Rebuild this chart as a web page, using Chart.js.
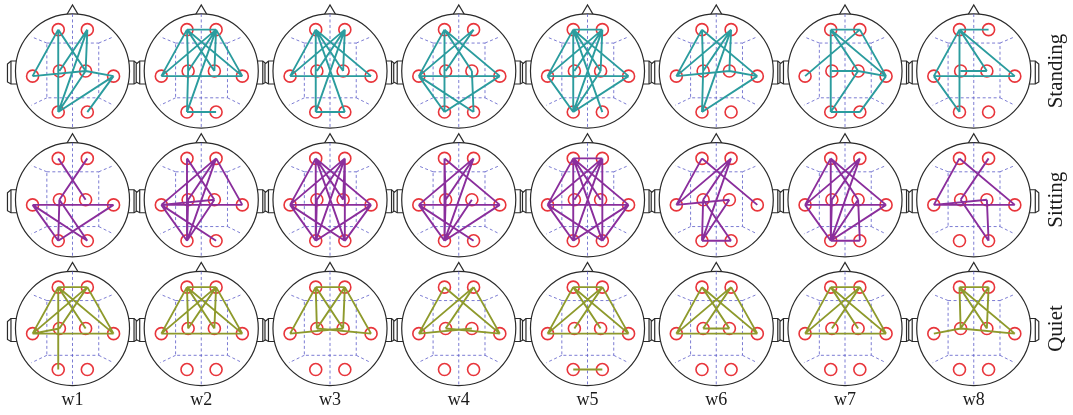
<!DOCTYPE html>
<html>
<head>
<meta charset="utf-8">
<script src="https://cdn.jsdelivr.net/npm/chart.js@4.4.1/dist/chart.umd.min.js"></script>
<style>
  html, body { margin: 0; padding: 0; background: #ffffff; }
  #wrap { width: 1073px; height: 415px; }
</style>
</head>
<body>
<div id="wrap"><canvas id="c" width="1073" height="415"></canvas></div>
<script>
// Time windows (columns) and postures (rows)
const windows = ['w1', 'w2', 'w3', 'w4', 'w5', 'w6', 'w7', 'w8'];
const postures = ['Standing', 'Sitting', 'Quiet'];

// Electrode montage, in head radii from the head centre (y grows toward the back)
const electrodeX = [-0.25, 0.26, -0.70, -0.23, 0.23, 0.72, -0.25, 0.26];
const electrodeY = [-0.725, -0.725, 0.09, 0.0, 0.0, 0.09, 0.72, 0.72];

// Functional connections (electrode index pairs) per time window
const standingLinks = [
  [[0,6],[0,2],[0,4],[1,3],[1,6],[1,4],[2,4],[4,5],[5,6],[4,6],[5,7]],
  [[0,1],[0,2],[0,3],[0,4],[0,5],[1,2],[1,3],[1,4],[1,5],[1,6],[2,5],[3,6],[6,7]],
  [[0,6],[0,2],[0,4],[0,5],[0,7],[1,2],[1,3],[1,4],[1,6],[2,5],[6,7]],
  [[0,6],[0,2],[0,4],[0,5],[1,2],[1,3],[2,5],[2,6],[2,7],[5,6],[4,7]],
  [[0,1],[0,6],[0,2],[0,4],[0,5],[0,7],[1,2],[1,3],[1,6],[1,4],[2,5],[2,6],[5,6],[4,6]],
  [[0,3],[0,2],[0,5],[1,2],[1,3],[1,6],[1,4],[2,4],[4,5],[5,6],[3,6]],
  [[0,1],[1,2],[0,6],[0,4],[0,5],[1,5],[3,4],[4,5],[5,7],[4,6],[6,7]],
  [[0,1],[0,6],[0,2],[0,4],[0,5],[2,5],[2,6],[3,4]]
];
const sittingLinks = [
  [[0,4],[1,3],[2,5],[2,6],[2,7],[5,6],[3,6],[3,7]],
  [[0,6],[0,4],[1,2],[1,3],[1,6],[1,5],[2,4],[2,5],[2,6],[2,7],[3,6],[4,6]],
  [[0,2],[0,6],[0,4],[0,5],[1,2],[1,3],[1,6],[1,7],[2,5],[2,6],[2,7],[3,6],[5,6],[5,7],[1,4],[0,7]],
  [[0,3],[0,6],[0,5],[1,2],[1,3],[1,6],[2,5],[2,6],[2,7],[3,6],[4,6],[5,6]],
  [[0,1],[0,2],[0,6],[0,4],[0,5],[0,7],[1,2],[1,3],[1,6],[1,7],[2,5],[2,6],[2,7],[5,6],[5,7]],
  [[0,2],[0,5],[1,2],[1,3],[1,6],[2,4],[3,6],[3,7],[4,6],[6,7]],
  [[0,2],[0,6],[0,4],[0,5],[1,2],[1,3],[1,6],[2,5],[2,6],[3,6],[4,6],[4,7],[5,6],[6,7]],
  [[0,2],[0,5],[1,3],[2,4],[2,5],[4,7],[3,7]]
];
const quietLinks = [
  [[0,1],[0,2],[0,6],[0,4],[0,5],[1,2],[1,3],[1,5],[2,5],[2,3]],
  [[0,1],[0,2],[0,4],[0,5],[1,2],[1,3],[1,5],[2,5],[0,3],[1,4]],
  [[0,1],[0,2],[0,4],[1,3],[1,5],[2,4],[3,5],[0,3],[1,4]],
  [[0,2],[0,5],[1,2],[1,5],[2,4],[3,5],[1,3]],
  [[0,1],[0,2],[0,4],[0,5],[1,2],[1,3],[1,5],[2,5],[6,7]],
  [[0,2],[0,4],[0,5],[1,2],[1,3],[1,5],[2,5],[3,4]],
  [[0,1],[0,2],[0,4],[0,5],[1,2],[1,3],[1,5],[2,5]],
  [[0,1],[0,3],[0,5],[1,3],[1,4],[2,3],[3,5],[0,4]]
];
const postureLinks = [standingLinks, sittingLinks, quietLinks];
const postureColors = ['#2b9c9e', '#8a2e9c', '#8e9a2c'];

// Grid geometry in cell units: one cell per head
const headRadius = 0.443;
const cellPx = 128.75;
const xMin = -72.5 / cellPx, xMax = xMin + 1073 / cellPx;
const yMin = -71 / cellPx,   yMax = yMin + 415 / cellPx;

const datasets = [];
postures.forEach((p, r) => {
  windows.forEach((w, c) => {
    const pts = [];
    postureLinks[r][c].forEach(([a, b]) => {
      pts.push({ x: c + electrodeX[a] * headRadius, y: r + electrodeY[a] * headRadius });
      pts.push({ x: c + electrodeX[b] * headRadius, y: r + electrodeY[b] * headRadius });
      pts.push({ x: NaN, y: NaN });
    });
    datasets.push({
      label: p + ' ' + w,
      data: pts,
      showLine: true,
      spanGaps: false,
      borderColor: postureColors[r],
      borderWidth: 1.9,
      pointRadius: 0,
      order: 1
    });
  });
});
const electrodePts = [];
postures.forEach((p, r) => windows.forEach((w, c) => {
  electrodeX.forEach((ex, i) => electrodePts.push({ x: c + ex * headRadius, y: r + electrodeY[i] * headRadius }));
}));
datasets.push({
  label: 'electrodes',
  data: electrodePts,
  pointRadius: 6,
  pointBorderWidth: 1.6,
  pointBorderColor: '#e8353b',
  pointBackgroundColor: 'rgba(0,0,0,0)',
  showLine: false,
  order: 2
});

// Head outlines, nose, ears and the dashed reference grid
const headPlugin = {
  id: 'heads',
  beforeDatasetsDraw(chart) {
    const { ctx, scales: { x, y } } = chart;
    const unit = x.getPixelForValue(1) - x.getPixelForValue(0);
    const R = headRadius * unit;
    postures.forEach((p, r) => windows.forEach((w, c) => {
      const cx = x.getPixelForValue(c), cy = y.getPixelForValue(r);
      ctx.save();
      ctx.strokeStyle = '#2a2a2a';
      ctx.lineWidth = 1.2;
      ctx.fillStyle = '#ffffff';
      // nose
      ctx.beginPath();
      ctx.moveTo(cx - 6.5, cy - R + 2);
      ctx.lineTo(cx, cy - R - 9);
      ctx.lineTo(cx + 6.5, cy - R + 2);
      ctx.closePath();
      ctx.fill(); ctx.stroke();
      // ears
      [-1, 1].forEach(s => {
        const x0 = cx + s * (R - 2), x1 = cx + s * (R + 4.5), x2 = cx + s * (R + 8);
        ctx.beginPath();
        ctx.moveTo(x0, cy - 10);
        ctx.lineTo(x1, cy - 10);
        ctx.lineTo(x2, cy - 7);
        ctx.lineTo(x2, cy + 11);
        ctx.lineTo(x1, cy + 13);
        ctx.lineTo(x0, cy + 13);
        ctx.closePath();
        ctx.fill(); ctx.stroke();
        ctx.beginPath();
        ctx.moveTo(x1, cy - 10); ctx.lineTo(x1, cy + 13);
        ctx.stroke();
      });
      // scalp
      ctx.beginPath();
      ctx.arc(cx, cy, R, 0, Math.PI * 2);
      ctx.fill(); ctx.stroke();
      // dashed grid
      ctx.strokeStyle = '#5a5ac8';
      ctx.lineWidth = 0.8;
      ctx.setLineDash([3, 2.5]);
      ctx.beginPath();
      ctx.moveTo(cx, cy - R); ctx.lineTo(cx, cy + R);
      const l = cx - 0.45 * R, rr = cx + 0.46 * R, t = cy - 0.49 * R, b = cy + 0.47 * R;
      ctx.rect(l, t, rr - l, b - t);
      ctx.moveTo(l, t); ctx.lineTo(cx - 0.72 * R, cy - 0.6 * R);
      ctx.moveTo(rr, t); ctx.lineTo(cx + 0.72 * R, cy - 0.6 * R);
      ctx.moveTo(l, b); ctx.lineTo(cx - 0.72 * R, cy + 0.6 * R);
      ctx.moveTo(rr, b); ctx.lineTo(cx + 0.72 * R, cy + 0.6 * R);
      ctx.stroke();
      ctx.restore();
    }));
  },
  afterDraw(chart) {
    const { ctx, scales: { x, y } } = chart;
    ctx.save();
    ctx.fillStyle = '#1a1a1a';
    ctx.font = '18px "Liberation Serif", "DejaVu Serif", serif';
    ctx.textAlign = 'center';
    ctx.textBaseline = 'alphabetic';
    windows.forEach((w, c) => ctx.fillText(w, x.getPixelForValue(c), y.getPixelForValue(2.597)));
    ctx.font = '21px "Liberation Serif", "DejaVu Serif", serif';
    ctx.textBaseline = 'middle';
    postures.forEach((p, r) => {
      ctx.save();
      ctx.translate(x.getPixelForValue(7.64), y.getPixelForValue(r));
      ctx.rotate(-Math.PI / 2);
      ctx.fillText(p, 0, 0);
      ctx.restore();
    });
    ctx.restore();
  }
};

new Chart(document.getElementById('c'), {
  type: 'scatter',
  data: { datasets },
  options: {
    responsive: false,
    animation: false,
    devicePixelRatio: 1,
    layout: { padding: 0, autoPadding: false },
    plugins: { legend: { display: false }, tooltip: { enabled: false } },
    scales: {
      x: { type: 'linear', min: xMin, max: xMax, display: false },
      y: { type: 'linear', min: yMin, max: yMax, reverse: true, display: false }
    }
  },
  plugins: [headPlugin]
});
</script>
</body>
</html>
